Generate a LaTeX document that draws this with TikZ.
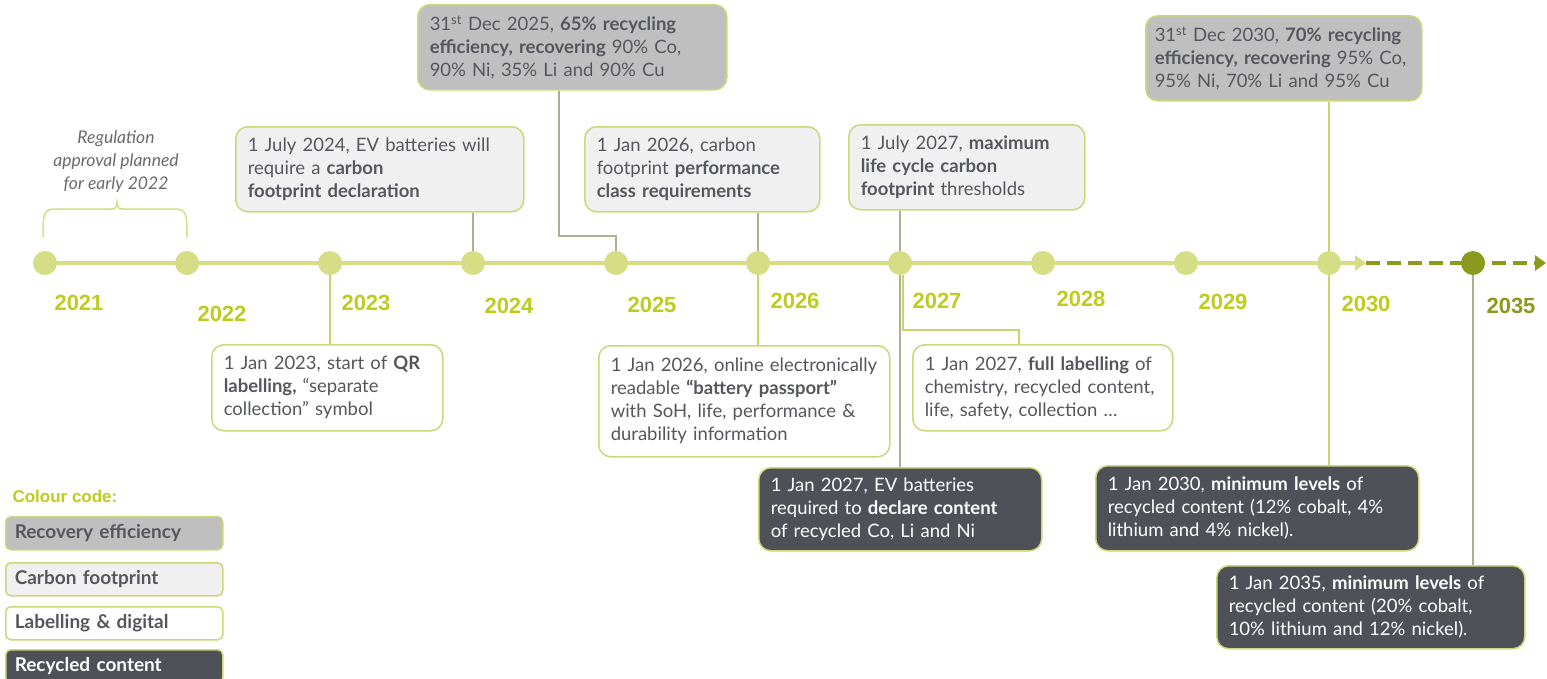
\documentclass[tikz,border=0pt]{standalone}
\usepackage{fontspec}
\setmainfont{Lato}
\newfontfamily\arialf{Liberation Sans}
\usetikzlibrary{arrows.meta}
\definecolor{linegreen}{HTML}{D5DE84}
\definecolor{yeargreen}{HTML}{BDCC1E}
\definecolor{olive}{HTML}{8B9A1C}
\definecolor{bordergreen}{HTML}{CDD77A}
\definecolor{recovfill}{HTML}{BFBFBF}
\definecolor{carbfill}{HTML}{F0F0F0}
\definecolor{recycfill}{HTML}{4E5158}
\definecolor{txtgray}{HTML}{55575C}
\definecolor{conngray}{HTML}{AEB191}
\definecolor{conngreen}{HTML}{CAD46E}
\definecolor{notegray}{HTML}{6A6B6E}
\begin{document}
\begin{tikzpicture}[x=1pt,y=-1pt,
  evbox/.style={draw=bordergreen, line width=1.5pt, rounded corners=12pt, inner xsep=12pt, inner ysep=6pt,
    align=left, font=\fontsize{18.5}{23}\selectfont, text=txtgray, anchor=north west},
  recov/.style={evbox, fill=recovfill},
  carbon/.style={evbox, fill=carbfill},
  labbox/.style={evbox, fill=white},
  recyc/.style={evbox, fill=recycfill, text=white},
  dot/.style={circle, fill=linegreen, minimum size=24pt, inner sep=0pt},
  year/.style={font=\arialf\bfseries\fontsize{22}{22}\selectfont, text=yeargreen},
  connup/.style={draw=conngray, line width=1.3pt},
  conndn/.style={draw=conngreen, line width=1.3pt},
  legbox/.style={draw=bordergreen, line width=1.5pt, rounded corners=5pt, inner xsep=9pt, inner ysep=0pt,
    anchor=north west, minimum height=33pt, text width=199pt, align=left,
    font=\fontsize{19}{20}\selectfont\bfseries, text=txtgray},
]
\useasboundingbox (0,0) rectangle (1547,678);

% timeline positions
\coordinate (p21) at (45,263);
\coordinate (p22) at (187,263);
\coordinate (p23) at (330,263);
\coordinate (p24) at (473,263);
\coordinate (p25) at (616,263);
\coordinate (p26) at (758,263);
\coordinate (p27) at (900,263);
\coordinate (p28) at (1043,263);
\coordinate (p29) at (1186,263);
\coordinate (p30) at (1329,263);
\coordinate (p35) at (1473,263);
\coordinate (tlend) at (1366,263);
\coordinate (tlarrow) at (1546,263);

\draw[linegreen, line width=4.5pt, -{Triangle[length=11pt,width=15pt]}] (p21) -- (tlend);
\draw[olive, line width=4.5pt, dash pattern=on 14pt off 7pt, -{Triangle[length=11pt,width=15pt]}] (tlend) -- (tlarrow);

\foreach \n in {21,22,23,24,25,26,27,28,29,30} \node[dot] (d\n) at (p\n) {};
\node[dot, fill=olive] (d35) at (p35) {};

% years
\node[year] (y21) at (79,303) {2021};
\node[year] (y22) at (222,314) {2022};
\node[year] (y23) at (366,303) {2023};
\node[year] (y24) at (509,306) {2024};
\node[year] (y25) at (652,305) {2025};
\node[year] (y26) at (795,301) {2026};
\node[year] (y27) at (937,301) {2027};
\node[year] (y28) at (1081,299) {2028};
\node[year] (y29) at (1223,302) {2029};
\node[year] (y30) at (1366,304) {2030};
\node[year, text=olive] (y35) at (1511,306) {2035};

% brace and note
\node[font=\itshape\fontsize{17.5}{23}\selectfont, text=notegray, align=center] (note) at (116,162)
  {Regulation\\ approval planned\\ for early 2022};
\coordinate (brl) at (43,237);
\coordinate (brr) at (187,237);
\coordinate (brt) at (117,202);
\draw[linegreen, line width=1.5pt] (brl) .. controls (43,212) and (44,209) .. (56,209) -- (108,209)
  .. controls (116,209) .. (brt) .. controls (118,209) .. (126,209) -- (174,209)
  .. controls (186,209) and (187,212) .. (brr);

% boxes above
\node[carbon, text width=264pt, minimum height=85pt] (b24) at (235,126)
  {1 July 2024, EV batteries will\\ require a \textbf{carbon}\\ \textbf{footprint declaration}};
\node[recov, text width=285pt, minimum height=85pt] (b25) at (417,4)
  {31\textsuperscript{st} Dec 2025, \textbf{65\% recycling}\\ \textbf{efficiency, recovering} 90\% Co,\\ 90\% Ni, 35\% Li and 90\% Cu};
\node[carbon, text width=211pt, minimum height=85pt] (b26c) at (584,126)
  {1 Jan 2026, carbon\\ footprint \textbf{performance}\\ \textbf{class requirements}};
\node[carbon, text width=212pt, minimum height=85pt] (b27c) at (848,124)
  {1 July 2027, \textbf{maximum}\\ \textbf{life cycle carbon}\\ \textbf{footprint} thresholds};
\node[recov, inner xsep=9pt, text width=258pt, minimum height=85pt] (b30v) at (1145,15)
  {31\textsuperscript{st} Dec 2030, \textbf{70\% recycling}\\ \textbf{efficiency, recovering} 95\%~Co,\\ 95\% Ni, 70\% Li and 95\% Cu};

% boxes below
\node[labbox, text width=207pt, minimum height=86pt] (b23) at (211,344)
  {1 Jan 2023, start of \textbf{QR}\\ \textbf{labelling,} “separate\\ collection” symbol};
\node[labbox, text width=267pt, minimum height=111pt] (b26l) at (598,345)
  {1 Jan 2026, online electronically\\ readable \textbf{“battery passport”}\\ with SoH, life, performance \&\\ durability information};
\node[labbox, text width=236pt, minimum height=86pt] (b27l) at (912,344)
  {1 Jan 2027, \textbf{full labelling} of\\ chemistry, recycled content,\\ life, safety, collection …};
\node[recyc, text width=259pt, minimum height=83pt] (b27r) at (758,467)
  {1 Jan 2027, EV batteries\\ required to \textbf{declare content}\\ of recycled Co, Li and Ni};
\node[recyc, text width=299pt, minimum height=85pt] (b30r) at (1095,465)
  {1 Jan 2030, \textbf{minimum levels} of\\ recycled content (12\% cobalt, 4\%\\ lithium and 4\% nickel).};
\node[recyc, text width=284pt, minimum height=83pt] (b35r) at (1216,565)
  {1 Jan 2035, \textbf{minimum levels} of\\ recycled content (20\% cobalt,\\ 10\% lithium and 12\% nickel).};

% connectors above
\draw[connup] (b24.south -| d24) -- (d24.north);
\coordinate (k25) at (559,236);
\draw[connup] (b25.south -| k25) -- (k25) -| (d25.north);
\draw[connup] (b26c.south -| d26) -- (d26.north);
\draw[connup] (b27c.south -| d27) -- (d27.north);
\draw[conndn] (b30v.south -| d30) -- (d30.north);

% connectors below
\draw[conndn] (d23.south) -- (d23.south |- b23.north);
\draw[conndn] (d26.south) -- (d26.south |- b26l.north);
\coordinate (k27) at (1019,330);
\draw[conndn] ([xshift=3pt]d27.south) |- (k27) -- (k27 |- b27l.north);
\draw[connup] (d27.south) -- (d27.south |- b27r.north);
\draw[conndn] (d30.south) -- (d30.south |- b30r.north);
\draw[connup] (d35.south) -- (d35.south |- b35r.north);

% legend
\node[anchor=west, font=\arialf\bfseries\fontsize{17}{17}\selectfont, text=yeargreen] (lgt) at (9,496) {Colour code:};
\node[legbox, fill=recovfill] (lg1) at (5,516) {Recovery efficiency};
\node[legbox, fill=carbfill] (lg2) at (5,562) {Carbon footprint};
\node[legbox, fill=white] (lg3) at (5,606) {Labelling \& digital};
\node[legbox, fill=recycfill, text=white] (lg4) at (5,649) {Recycled content};
\end{tikzpicture}
\end{document}
